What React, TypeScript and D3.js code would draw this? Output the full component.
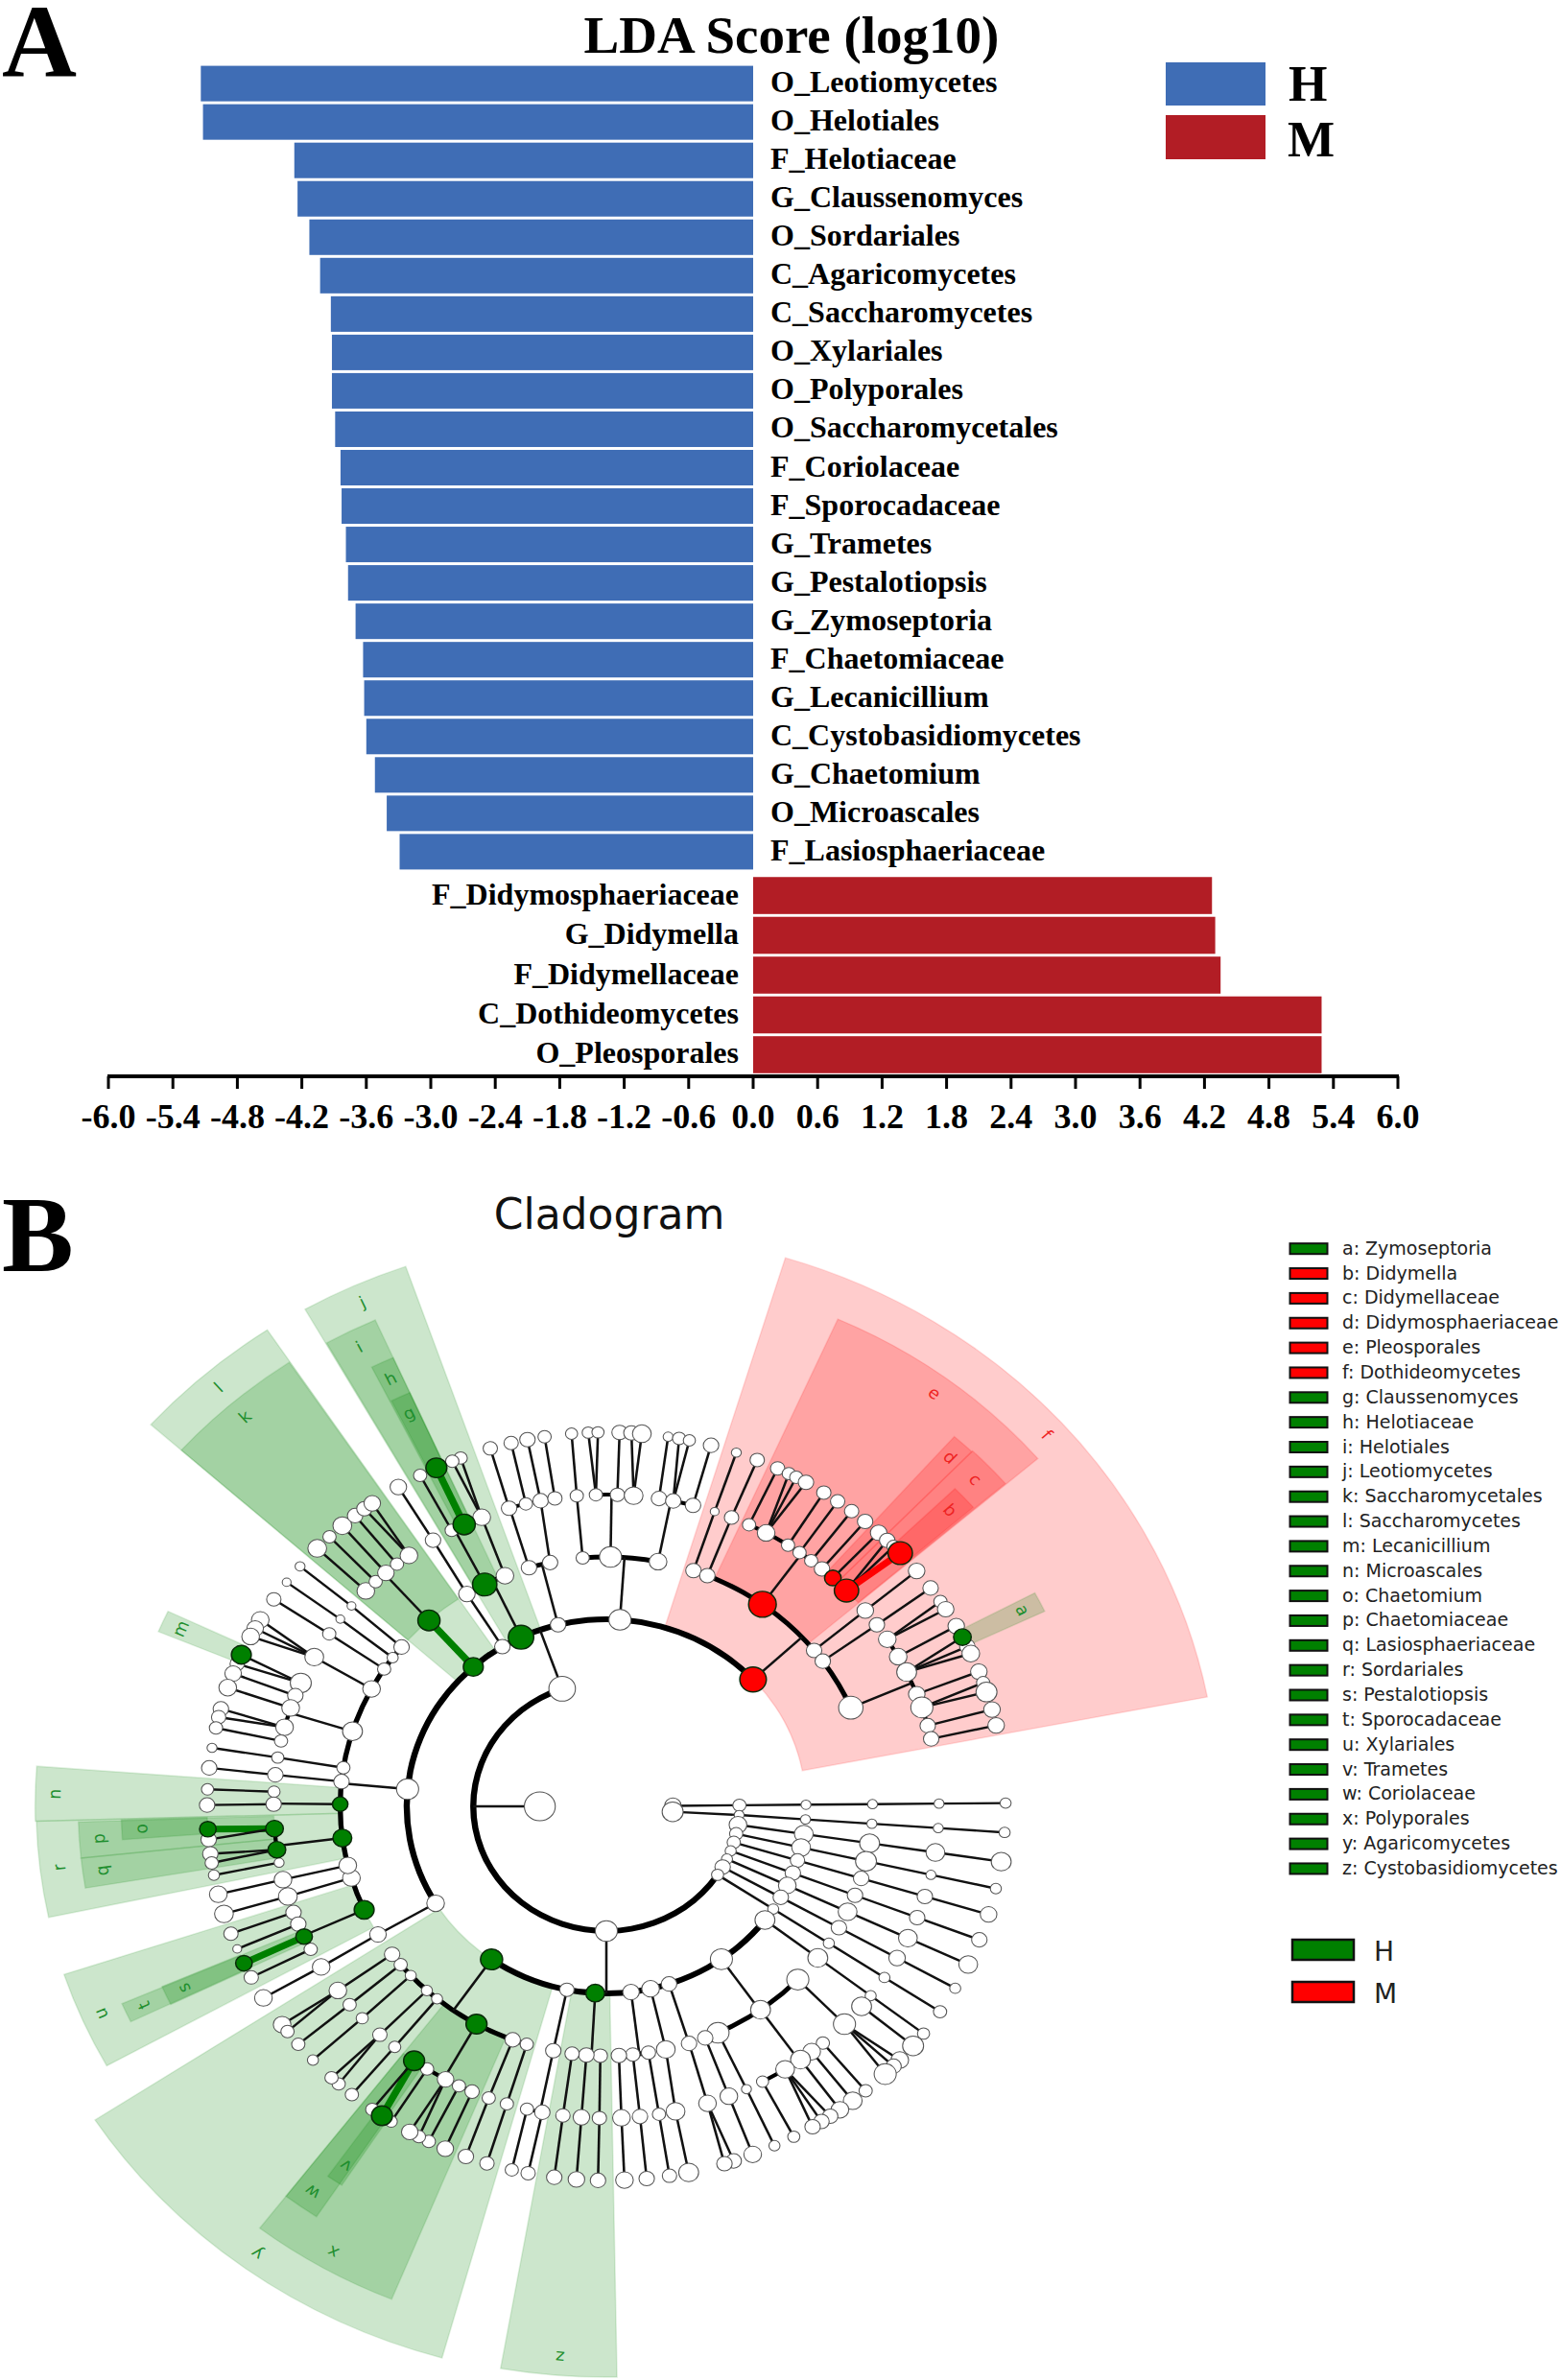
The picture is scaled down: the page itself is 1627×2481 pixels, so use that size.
import React from "react";
import * as d3 from "d3";

// ---------- Panel A data ----------
const hTaxa = ["O_Leotiomycetes","O_Helotiales","F_Helotiaceae","G_Claussenomyces","O_Sordariales","C_Agaricomycetes","C_Saccharomycetes","O_Xylariales","O_Polyporales","O_Saccharomycetales","F_Coriolaceae","F_Sporocadaceae","G_Trametes","G_Pestalotiopsis","G_Zymoseptoria","F_Chaetomiaceae","G_Lecanicillium","C_Cystobasidiomycetes","G_Chaetomium","O_Microascales","F_Lasiosphaeriaceae"];
const hValues = [5.14,5.12,4.27,4.24,4.13,4.03,3.93,3.92,3.92,3.89,3.84,3.83,3.79,3.77,3.70,3.63,3.62,3.60,3.52,3.41,3.29];
const mTaxa = ["F_Didymosphaeriaceae","G_Didymella","F_Didymellaceae","C_Dothideomycetes","O_Pleosporales"];
const mValues = [4.27,4.30,4.35,5.29,5.29];
const ldaTicks = ["-6.0","-5.4","-4.8","-4.2","-3.6","-3.0","-2.4","-1.8","-1.2","-0.6","0.0","0.6","1.2","1.8","2.4","3.0","3.6","4.2","4.8","5.4","6.0"];

// ---------- Panel B data ----------
const cladeLegend = ["a: Zymoseptoria","b: Didymella","c: Didymellaceae","d: Didymosphaeriaceae","e: Pleosporales","f: Dothideomycetes","g: Claussenomyces","h: Helotiaceae","i: Helotiales","j: Leotiomycetes","k: Saccharomycetales","l: Saccharomycetes","m: Lecanicillium","n: Microascales","o: Chaetomium","p: Chaetomiaceae","q: Lasiosphaeriaceae","r: Sordariales","s: Pestalotiopsis","t: Sporocadaceae","u: Xylariales","v: Trametes","w: Coriolaceae","x: Polyporales","y: Agaricomycetes","z: Cystobasidiomycetes"];
const cladeLegendGroup = "GMMMMMGGGGGGGGGGGGGGGGGGGG".split("");

// letter, start angle, end angle, inner radius, outer radius, group
const sectors: [string, number, number, number, number, string][] = [
  ["f",287,349,195,598,"M"],["e",294,319.3,260,556,"M"],["d",311.4,314,325,514,"M"],["c",314,319.2,325,515,"M"],["b",315.8,319,390,475,"M"],["a",332,334.6,390,474,"G"],
  ["j",240.4,250.8,195,596,"G"],["i",240.5,246,260,555,"G"],["h",243.4,246,325,512,"G"],["g",243.6,246,390,472,"G"],
  ["l",221.8,236.3,195,597,"G"],["k",221.8,236.2,260,557,"G"],["m",202.6,205.4,390,474,"G"],
  ["n",178.4,184.3,260,558,"G"],["r",168,178.4,260,557,"G"],["p",174,178.2,325,516,"G"],["q",170.5,174,325,516,"G"],["o",175.8,178.3,390,474,"G"],
  ["u",151,161.7,260,558,"G"],["t",154.2,156.5,325,516,"G"],["s",154.1,156.6,390,473,"G"],
  ["y",105.6,146.8,195,597,"G"],["x",112.2,127.6,260,555,"G"],["w",123.5,127.6,325,513,"G"],["v",123.2,125.2,390,472,"G"],
  ["z",89,100,195,595,"G"],
];

type N = { a: number; s: number; k: N[]; m?: string; t?: boolean };
// N(angle, size, children, mark, thick edge from parent)
const n = (a: number, s: number, k: N[] = [], m?: string, t?: boolean): N => ({ a, s, k, m, t });

const chains = [
  n(-0.5,7.5,[n(-0.5,6,[n(-0.5,4.5,[n(-0.5,4.5,[n(-0.5,4.5,[n(-0.5,5)])])])])]),
  n(5,9.5,[n(4,4.5,[n(4,4.5,[n(4,4.5,[n(4,4.5,[n(4,5)])])])])]),
];
const fanClades = [
  n(8.5,8,[n(8.5,8.5,[n(8.5,9,[n(8.5,8.5,[n(8.5,9)])])])]),
  n(12.7,6,[n(12.7,8.5,[n(12.7,9.5,[n(12.7,4.5,[n(12.7,5)])])])]),
  n(16.8,6,[n(16.8,6.5,[n(16.8,7,[n(16.8,7,[n(16.8,7.5)])])])]),
  n(20.9,5,[n(20.9,7,[n(20.9,7,[n(20.9,7,[n(20.9,7)])])])]),
  n(25,5,[n(25,8,[n(25,8.5,[n(25,8.5,[n(25,8.5)])])])]),
  n(29.1,7,[n(29.1,7,[n(29.1,7,[n(29.1,7.5,[n(29.1,5)])])])]),
  n(33.3,5.5,[n(33.3,5,[n(33.3,5,[n(33.3,5,[n(33.3,6)])])])]),
];
const bottomClade = n(90,10,[
  n(37.4,9,[n(37.4,9,[n(37.4,5,[n(37.4,5.5)]),n(39.9,9,[n(39.8,9.5)])])]),
  n(54.8,10,[
    n(44,10,[n(44.3,10,[n(42.7,8),n(44,7),n(45.7,10)])]),
    n(54.6,9,[n(49.4,6,[n(49.5,6)]),n(51.9,8,[n(51.9,8.5)]),n(54.3,9,[n(54.2,8)]),n(57.5,8.5,[n(55.9,7),n(57.4,7),n(58.9,7)]),n(62,5.5,[n(62,5.5)])]),
    n(65.2,10,[n(65.1,4.5,[n(65.1,5)])]),
    n(68.2,7,[n(68.4,8,[n(68.5,8)])]),
  ]),
  n(71.7,7,[n(71.9,7,[n(72.3,8,[n(71.4,7),n(72.8,7)])])]),
  n(77.2,8,[n(77.1,8.5,[n(78,8.5,[n(78.1,9)])])]),
  n(82.9,7.5,[n(80.9,6.5,[n(80.9,6,[n(80.9,6.5)])]),n(84.3,6.5,[n(84.2,7,[n(84.2,7)])]),n(87.3,7,[n(87.4,8,[n(87.4,8)])])]),
  n(93.2,8.5,[n(91.3,6.5,[n(91.2,6.5,[n(91.2,7)])]),n(94.3,7,[n(94.3,7.5,[n(94.3,7.5)])]),n(97.4,6.5,[n(97.5,6.5,[n(97.5,7)])])],"G"),
  n(101.4,6.5,[n(101.5,7,[n(101.1,7,[n(101.3,6.5)]),n(103.8,6,[n(103.7,6)])])]),
  n(125.1,10,[
    n(107.4,6,[n(107.4,6,[n(107.4,6.5)])]),
    n(110.6,7,[n(110.7,6,[n(110.6,7)])]),
    n(119.2,9.5,[n(113.8,6.5,[n(113.8,7.5)]),n(116.3,6,[n(116.4,6)]),n(118.9,7.5,[n(118,6),n(119.5,7.5)]),n(122.6,6,[n(122.6,5.5)]),n(125.3,9.5,[n(124.2,9.5,[],"G",true),n(125.9,6)],"G")],"G"),
    n(129.5,5,[n(129.5,5.5,[n(129.6,6)])]),
    n(132.4,5,[n(132.9,6.5,[n(132.1,6),n(133.5,6)])]),
    n(137.3,5,[n(137.2,5.5,[n(137.3,5)])]),
    n(140.6,6,[n(140.5,6,[n(140.5,6)])]),
    n(143.6,7,[n(143.8,8,[n(144.3,8),n(143,6)])]),
  ],"G"),
]);
const leftClade = n(185.3,10,[
  n(155.5,9,[n(160.1,7,[n(160.1,6.5)]),n(157.8,7,[n(157.6,4)]),n(155.3,7.5,[n(155.2,7.5,[],"G",true)],"G"),n(152.7,6,[n(152.8,6.5)])],"G"),
  n(163.3,8,[n(163.2,8.5,[n(163.3,8.5)])]),
  n(166.3,8,[n(166.4,8,[n(166.4,8)])]),
  n(172.7,8.5,[n(175.9,8,[n(176.5,7.5,[],"G",true),n(174.9,7)],"G"),n(172,8,[n(172.7,7),n(171.3,6)],"G"),n(169.6,4.5,[n(169.4,5)])],"G"),
  n(180.5,7,[n(182.7,5.5,[n(182.6,5.5)]),n(180.4,7,[n(180.2,7)])],"G"),
  n(185.7,7,[n(185.8,7,[n(185.9,7)])]),
  n(188.9,6,[n(189,5.5,[n(189,4.5)])]),
  n(197.5,9,[n(203.3,9.5,[n(203.9,9,[],"G"),n(202.4,6.5)]),n(200.8,7,[n(200.8,7.5)]),n(198.4,8,[n(198.5,8)]),n(194.7,8,[n(195.1,7),n(193.8,6.5)]),n(192.1,6,[n(192.1,6)])]),
  n(208.1,8,[n(208.6,8.5,[n(209.9,8),n(208.4,7.5),n(207,8)])]),
  n(213.4,6,[n(213.6,6,[n(213.6,6.5)])]),
  n(216.6,5,[n(216.9,4,[n(216.8,4)])]),
  n(219.7,7,[n(220,4,[n(219.9,4.5)])]),
]);
const upperClades = [
  n(228.2,9,[n(228.2,10,[n(223.7,8,[n(223.6,8.5)]),n(226.1,6,[n(226.1,6)]),n(228.5,7.5,[n(228.6,8.5)]),n(231,6,[n(231,7)]),n(233.6,8,[n(232.7,7),n(234.1,7.5)])],"G",true)],"G"),
  n(238.6,7,[n(238.4,7.5,[n(238.6,7,[n(238.6,7.5)])])]),
  n(244.7,11.5,[n(242.8,11,[n(244.7,10,[n(244.8,9.5,[],"G",true)],"G"),n(242.3,6,[n(242.2,6)])],"G"),n(247.6,8,[n(248,8,[n(248.6,6),n(247.3,6)])])],"G"),
  n(256,7,[n(253.1,7,[n(253,7,[n(253.1,6.5)]),n(256,6,[n(256.2,6.5)])]),n(257.8,7,[n(258.6,7,[n(258.6,7)]),n(261.1,6.5,[n(261.1,6)])])]),
  n(273.9,10,[n(264.9,6,[n(264.9,6,[n(265,5.5)])]),n(270.9,10,[n(268.2,6,[n(267.4,5.5),n(268.8,5.5)]),n(271.9,6.5,[n(271.9,7)]),n(274.7,8.5,[n(273.6,7),n(275.1,8.5)])]),n(281.2,8,[n(279.1,7,[n(278.9,4.5)]),n(281.6,7,[n(280.5,6),n(282,5.5)]),n(285.1,7,[n(285.2,7)])])]),
];
const dothideoClade = n(317.3,12,[
  n(289.1,7,[n(289,4,[n(289,4.5)])]),
  n(292.3,7,[n(292.1,6.5,[n(292.2,6.5)])]),
  n(305.9,12.5,[n(295.4,6,[n(295.4,6.5)]),n(298.7,8,[n(297.2,6),n(298.4,6),n(300,7)]),n(303.1,6,[n(303,6.5)]),n(305.5,6,[n(305.4,6.5)]),n(308,6,[n(307.9,6.5)]),n(310.4,7,[n(310.4,7)]),n(312.9,7.5,[n(313,7.5)],"M"),n(316.2,11,[n(314.7,7),n(316,6),n(317.4,11,[],"M",true)],"M")],"M"),
  n(321.3,7,[n(321.1,7.5,[n(321,7.5)])]),
  n(324.4,7,[n(324.4,7,[n(324.3,7)])]),
  n(336.7,11,[n(327.6,8,[n(326.8,6),n(328.2,7.5)]),n(331.3,8,[n(331.2,7.5)]),n(334.5,9,[n(334.7,7),n(335.9,8),n(333.1,8,[],"G")]),n(338.9,7.5,[n(338.9,7.5)]),n(341.5,10,[n(340.7,6),n(342.2,9.5)]),n(345,7,[n(345,7.5)]),n(347.5,7,[n(347.5,7.5)])]),
],"M");
const topClade = n(250.6,12,[n(148.8,8,[n(149.1,7.5,[n(149,8,[n(149.2,8)])])]),leftClade,...upperClades,dothideoClade]);
const treeRoots = [...chains, n(180,14,[...fanClades,bottomClade,topClade])];

// ---------- layout helpers ----------
const W = 1627, H = 2481;
const BLUE = "#3f6db5", RED = "#b21d25";
const SERIF = "'Liberation Serif','Times New Roman',serif";
const SANS = "'DejaVu Sans',sans-serif";
const xLda = d3.scaleLinear().domain([-6, 6]).range([113, 1457]);
const yH = d3.scaleBand<string>().domain(hTaxa).range([67, 908]).paddingInner(0.075).paddingOuter(0.04);
const yM = d3.scaleBand<string>().domain(mTaxa).range([913, 1120]).paddingInner(0.07).paddingOuter(0.03);
const rLevel = d3.scaleLinear().domain([0, 6]).range([0, 390]);
const arcW = d3.scaleOrdinal<number, number>().domain([1, 2, 3, 4, 5]).range([5, 6, 6, 5, 4]);
const rad = (t: number) => (t * Math.PI) / 180;
const pt = (t: number, r: number): [number, number] => [r * Math.cos(rad(t)), r * Math.sin(rad(t))];
const arcGen = d3.arc<any>();
const sectorPath = (a0: number, a1: number, r0: number, r1: number) =>
  arcGen({ innerRadius: r0, outerRadius: r1, startAngle: rad(a0 + 90), endAngle: rad(a1 + 90) }) as string;

type Seg = { x1: number; y1: number; x2: number; y2: number; c: string; w: number };
const segs: Seg[] = [];
const arcs: { d: string }[] = [];
const nodes: { x: number; y: number; s: number; m?: string }[] = [];
const colorOf = (m?: string) => (m === "G" ? "#008000" : m === "M" ? "#ff0000" : "#000");
function walk(node: N, level: number) {
  const r = rLevel(level);
  const [x, y] = pt(node.a, r);
  nodes.push({ x, y, s: node.s * 1.08, m: node.m });
  const kids = node.k;
  if (!kids.length) return;
  const rc = rLevel(level + 1);
  const direct = kids.length === 1 || level + 1 === 6;
  if (direct) {
    kids.forEach((k) => {
      const [x2, y2] = pt(k.a, rc);
      segs.push({ x1: x, y1: y, x2, y2, c: k.t ? colorOf(k.m) : "#111", w: k.t ? 7 : 2.4 });
    });
  } else {
    const lo = d3.min(kids, (k) => k.a)!;
    const hi = d3.max(kids, (k) => k.a)!;
    const w = arcW(level + 1);
    arcs.push({ d: sectorPath(lo, hi, rc - w / 2, rc + w / 2) });
    const [x2, y2] = pt(Math.min(hi, Math.max(lo, node.a)), rc);
    segs.push({ x1: x, y1: y, x2, y2, c: "#111", w: 2.4 });
  }
  kids.forEach((k) => walk(k, level + 1));
}
treeRoots.forEach((t) => walk(t, 1));
const orderedNodes = [...nodes.filter((d) => !d.m), ...nodes.filter((d) => d.m)];

export default function App() {
  return (
    <svg width={W} height={H} viewBox={`0 0 ${W} ${H}`} style={{ position: "absolute", left: 0, top: 0, background: "#fff" }}>
      {/* Panel A */}
      <text x={2} y={80} fontFamily={SERIF} fontWeight="bold" fontSize={108}>A</text>
      <text x={825} y={55} textAnchor="middle" fontFamily={SERIF} fontWeight="bold" fontSize={55}>LDA Score (log10)</text>
      {hTaxa.map((t, i) => (
        <g key={t}>
          <rect x={xLda(-hValues[i])} y={yH(t)} width={xLda(0) - xLda(-hValues[i])} height={yH.bandwidth()} fill={BLUE} />
          <text x={xLda(0) + 18} y={yH(t)! + yH.bandwidth() / 2 + 9} fontFamily={SERIF} fontWeight="bold" fontSize={32}>{t}</text>
        </g>
      ))}
      {mTaxa.map((t, i) => (
        <g key={t}>
          <rect x={xLda(0)} y={yM(t)} width={xLda(mValues[i]) - xLda(0)} height={yM.bandwidth()} fill={RED} />
          <text x={xLda(0) - 15} y={yM(t)! + yM.bandwidth() / 2 + 9} textAnchor="end" fontFamily={SERIF} fontWeight="bold" fontSize={32}>{t}</text>
        </g>
      ))}
      <line x1={xLda(-6) - 1} x2={xLda(6) + 1} y1={1122} y2={1122} stroke="#000" strokeWidth={4} />
      {ldaTicks.map((t) => (
        <g key={t} transform={`translate(${xLda(+t)},1122)`}>
          <line y1={0} y2={13} stroke="#000" strokeWidth={3} />
          <text y={54} textAnchor="middle" fontFamily={SERIF} fontWeight="bold" fontSize={36}>{t}</text>
        </g>
      ))}
      <rect x={1215} y={65} width={104} height={45} fill={BLUE} />
      <rect x={1215} y={120} width={104} height={46} fill={RED} />
      <text x={1343} y={105} fontFamily={SERIF} fontWeight="bold" fontSize={52}>H</text>
      <text x={1342} y={163} fontFamily={SERIF} fontWeight="bold" fontSize={52}>M</text>

      {/* Panel B */}
      <text x={2} y={1325} fontFamily={SERIF} fontWeight="bold" fontSize={112}>B</text>
      <text x={635} y={1281} textAnchor="middle" fontFamily={SANS} fontSize={44} fill="#111">Cladogram</text>
      <g transform="translate(632,1883) scale(1.067,1)">
        {sectors.map(([l, a0, a1, r0, r1, g]) => {
          const col = g === "G" ? "#008000" : "#ff0000";
          return <path key={l} d={sectorPath(a0, a1, r0, r1)} fill={col} fillOpacity={0.2} stroke={col} strokeOpacity={0.12} strokeWidth={1.5} />;
        })}
        {sectors.map(([l, a0, a1, , r1, g]) => {
          const mid = (a0 + a1) / 2;
          const [x, y] = pt(mid, r1 - 19);
          return (
            <text key={l} transform={`translate(${x},${y}) rotate(${mid + 90})`} textAnchor="middle" dominantBaseline="central" fontFamily={SANS} fontSize={17} fill={g === "G" ? "#1f8f2f" : "#ee2222"}>{l}</text>
          );
        })}
        {arcs.map((a, i) => <path key={i} d={a.d} fill="#000" />)}
        {segs.map((s, i) => <line key={i} x1={s.x1} y1={s.y1} x2={s.x2} y2={s.y2} stroke={s.c} strokeWidth={s.w} />)}
        {orderedNodes.map((d, i) => (
          <circle key={i} cx={d.x} cy={d.y} r={d.s} fill={d.m ? colorOf(d.m) : "#fff"} stroke={d.m ? "#0a2a0a" : "#555"} strokeWidth={d.m ? 1.4 : 1} />
        ))}
      </g>
      {cladeLegend.map((t, i) => {
        const y = 1301.7 + i * 25.85;
        return (
          <g key={t}>
            <rect x={1344.5} y={y - 5.5} width={39} height={11} fill={cladeLegendGroup[i] === "G" ? "#008000" : "#ff0000"} stroke="#111" strokeWidth={2} />
            <text x={1399} y={y + 6} fontFamily={SANS} fontSize={19} fill="#222">{t}</text>
          </g>
        );
      })}
      <rect x={1347} y={2022} width={64} height={21} fill="#008000" stroke="#111" strokeWidth={2.5} />
      <rect x={1347} y={2066} width={64} height={21} fill="#ff0000" stroke="#111" strokeWidth={2.5} />
      <text x={1432} y={2044} fontFamily={SANS} fontSize={28} fill="#222">H</text>
      <text x={1432} y={2088} fontFamily={SANS} fontSize={28} fill="#222">M</text>
    </svg>
  );
}
